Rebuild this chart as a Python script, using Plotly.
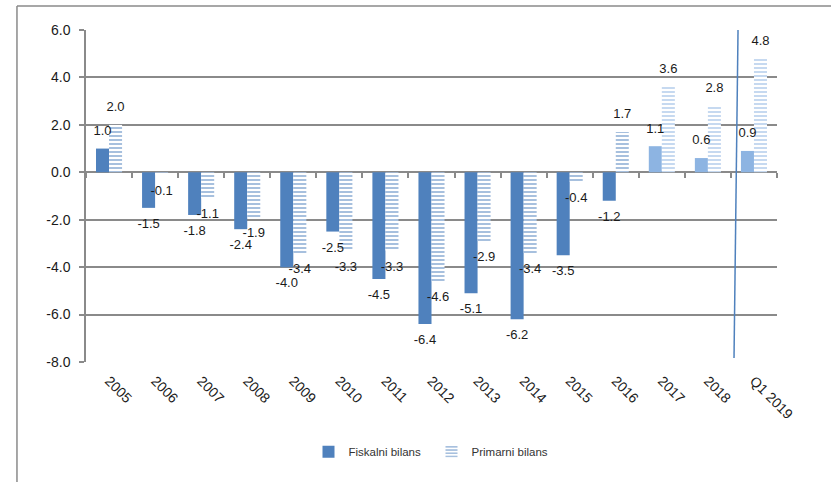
import plotly.graph_objects as go

# Fiscal and primary balance, % of GDP
years = ["2005", "2006", "2007", "2008", "2009", "2010", "2011", "2012",
         "2013", "2014", "2015", "2016", "2017", "2018", "Q1 2019"]
fiskalni = [1.0, -1.5, -1.8, -2.4, -4.0, -2.5, -4.5, -6.4, -5.1, -6.2, -3.5, -1.2, 1.1, 0.6, 0.9]
primarni = [2.0, -0.1, -1.1, -1.9, -3.4, -3.3, -3.3, -4.6, -2.9, -3.4, -0.4, 1.7, 3.6, 2.8, 4.8]
y_ticks = [6, 4, 2, 0, -2, -4, -6, -8]

DARK = "#4F81BD"
LIGHT = "#8DB4E2"
FONT = "Liberation Sans, Arial, sans-serif"
GRID = "#8a8a8a"
BAR_W = 0.283  # width of one bar, in category units

pos = list(range(len(years)))
# years from 2017 on are drawn in a lighter shade
shade = [LIGHT if y in ("2017", "2018", "Q1 2019") else DARK for y in years]

fig = go.Figure()
fig.add_trace(go.Bar(
    x=pos, y=fiskalni, name="Fiskalni bilans", width=BAR_W, offset=-BAR_W,
    marker=dict(color=shade, line=dict(width=0)),
))
fig.add_trace(go.Bar(
    x=pos, y=primarni, name="Primarni bilans", width=BAR_W, offset=0,
    marker=dict(color="white", line=dict(width=0),
                pattern=dict(shape="-", fgcolor=shade, bgcolor="white",
                             size=4, solidity=0.5)),
))


def value_labels(xs, vals):
    # transparent markers keep the text a little away from the bar ends
    return go.Scatter(
        x=xs, y=vals, mode="markers+text", text=[f"{v:.1f}" for v in vals],
        marker=dict(size=15, opacity=0),
        textposition=["top center" if v >= 0 else "bottom center" for v in vals],
        textfont=dict(family=FONT, size=13, color="#1a1a1a"),
        showlegend=False, hoverinfo="skip", cliponaxis=False,
    )


# data labels sit above all bars
fig.add_trace(value_labels([p - BAR_W / 2 for p in pos], fiskalni))
fig.add_trace(value_labels([p + BAR_W / 2 for p in pos], primarni))

# helper trace so the zero-line category ticks axis is rendered
fig.add_trace(go.Scatter(x=pos, y=[None] * len(pos), xaxis="x2",
                         showlegend=False, hoverinfo="skip"))

fig.update_layout(
    width=831, height=482,
    margin=dict(l=86, r=54, t=30, b=120),
    paper_bgcolor="white", plot_bgcolor="white",
    barmode="overlay",
    font=dict(family=FONT, size=14, color="#1a1a1a"),
    showlegend=True,
    legend=dict(orientation="h", x=0.5, xanchor="center", y=-0.27, yanchor="middle",
                font=dict(family=FONT, size=11.5, color="#333333"),
                entrywidth=78, itemwidth=30),
    xaxis=dict(range=[-0.5, len(years) - 0.5], tickvals=pos, ticktext=years,
               tickangle=45, showgrid=False, zeroline=False, showline=False,
               ticks="", ticklabelstandoff=7,
               tickfont=dict(family=FONT, size=14, color="#1a1a1a")),
    xaxis2=dict(range=[-0.5, len(years) - 0.5],
                tickvals=[p - 0.5 for p in pos] + [len(years) - 0.5],
                overlaying="x", anchor="free", position=8 / 14,
                showticklabels=False, ticks="outside", ticklen=5, tickwidth=1.5,
                tickcolor=GRID, showgrid=False, showline=False, zeroline=False),
    yaxis=dict(range=[-8, 6], tickvals=y_ticks, ticktext=[f"{v:.1f}" for v in y_ticks],
               showgrid=True, gridcolor=GRID, gridwidth=1.5,
               zeroline=True, zerolinecolor=GRID, zerolinewidth=1.5,
               showline=True, linecolor=GRID, linewidth=1.5,
               ticks="outside", ticklen=5, tickwidth=1.5, tickcolor=GRID,
               ticklabelstandoff=6,
               tickfont=dict(family=FONT, size=14, color="#1a1a1a")),
    shapes=[
        # outer frame (left and top edges)
        dict(type="line", xref="paper", yref="paper", x0=-0.0999, x1=-0.0999,
             y0=-0.40, y1=1.0723, line=dict(color=GRID, width=1.5)),
        dict(type="line", xref="paper", yref="paper", x0=-0.0999, x1=1.2,
             y0=1.0723, y1=1.0723, line=dict(color=GRID, width=1.5)),
        # divider before the quarterly figure
        dict(type="line", xref="paper", yref="paper", x0=0.9436, x1=0.9378,
             y0=1.0, y1=0.012, line=dict(color=DARK, width=1.5)),
    ],
)

fig.write_html("out.html")
